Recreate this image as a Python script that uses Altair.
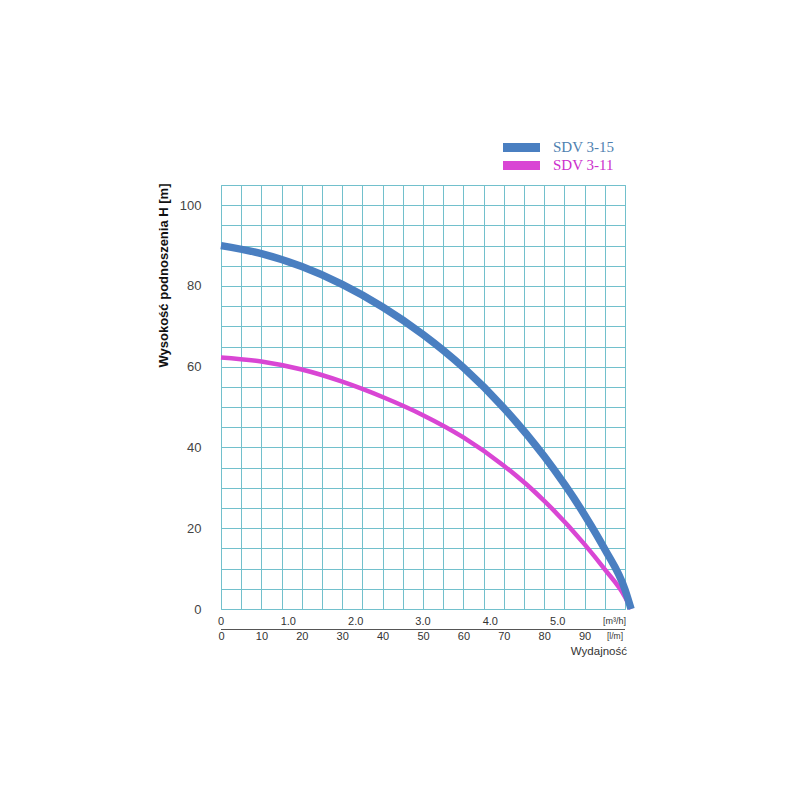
import altair as alt
import pandas as pd

# ---- data ----
flow_lpm = [0, 10, 20, 30, 40, 50, 60, 70, 80, 90, 95, 100, 101.5]
head_sdv_3_15 = [90, 88, 84.8, 80.4, 74.8, 68, 59.8, 49.8, 37.8, 23.3, 14.8, 4.8, 0]
head_sdv_3_11 = [62.3, 61.3, 59.3, 56.3, 52.5, 48, 42.5, 35.5, 26.8, 16, 9.8, 3, 0]
series_names = ["SDV 3-15", "SDV 3-11"]
series_colors = ["#4a7fc1", "#d946d4"]
legend_text_colors = ["#4f7fb0", "#cc2fcc"]
m3h_ticks = [0, 1, 2, 3, 4, 5]
m3h_labels = ["0", "1.0", "2.0", "3.0", "4.0", "5.0"]
x_grid_values = list(range(0, 101, 5))
y_grid_values = list(range(0, 106, 5))

GRID = "#72c0cc"
W, H = 404, 424
FONT = "Liberation Sans"

xscale = alt.Scale(domain=[0, 100], nice=False, zero=False)
yscale = alt.Scale(domain=[0, 105], nice=False, zero=False)

df_315 = pd.DataFrame({"flow": flow_lpm, "H": head_sdv_3_15})
df_311 = pd.DataFrame({"flow": flow_lpm, "H": head_sdv_3_11})

x_axis = alt.Axis(
    values=x_grid_values, grid=True, gridColor=GRID, gridWidth=1, gridOpacity=1,
    ticks=False, domain=False, title=None,
    labelExpr="datum.value % 10 == 0 && datum.value < 100 ? datum.value : ''",
    labelPadding=21, labelFontSize=11, labelColor="#333", labelFont=FONT,
    labelOverlap=False, labelFlush=False, labelBaseline="top",
)
y_axis = alt.Axis(
    values=y_grid_values, grid=True, gridColor=GRID, gridWidth=1, gridOpacity=1,
    ticks=False, domain=False,
    labelExpr="datum.value % 20 == 0 ? datum.value : ''",
    labelPadding=20, labelFontSize=13, labelColor="#444", labelFont=FONT,
    labelOverlap=False, labelFlush=False,
    title="Wysokość podnoszenia H [m]", titleFont=FONT, titleFontSize=13,
    titleFontWeight="bold", titleColor="#111", titleAngle=270,
    titleX=-58, titleY=90, titleAlign="center", titleBaseline="middle",
)


def X(field="flow"):
    return alt.X(f"{field}:Q", scale=xscale, axis=x_axis)


def Y(field="H"):
    return alt.Y(f"{field}:Q", scale=yscale, axis=y_axis)


line_311 = alt.Chart(df_311).mark_line(
    color=series_colors[1], strokeWidth=4.5, interpolate="monotone"
).encode(x=X(), y=Y())
line_315 = alt.Chart(df_315).mark_line(
    color=series_colors[0], strokeWidth=7.5, interpolate="monotone"
).encode(x=X(), y=Y())

# second (m3/h) label row, positioned through the flow scale
m3h_df = pd.DataFrame({"m3h": m3h_ticks, "label": m3h_labels})
m3h_text = alt.Chart(m3h_df).transform_calculate(
    flow="datum.m3h * 1000 / 60"
).mark_text(font=FONT, fontSize=11, color="#333", baseline="middle", align="center").encode(
    x=X(), y=alt.value(437), text="label:N",
)

rule_df = pd.DataFrame({"flow": [0], "flow_end": [100]})
sep_rule = alt.Chart(rule_df).mark_rule(color="#555", strokeWidth=1).encode(
    x=X(), x2="flow_end:Q", y=alt.value(444.5)
)

unit_m3h = alt.Chart(pd.DataFrame({"t": ["[m³/h]"]})).mark_text(
    font=FONT, fontSize=9, color="#333", align="right", baseline="middle"
).encode(x=alt.value(405), y=alt.value(436), text="t:N")
unit_lpm = alt.Chart(pd.DataFrame({"t": ["[l/m]"]})).mark_text(
    font=FONT, fontSize=8.5, color="#333", align="right", baseline="middle"
).encode(x=alt.value(402), y=alt.value(451), text="t:N")
wyd = alt.Chart(pd.DataFrame({"t": ["Wydajność"]})).mark_text(
    font=FONT, fontSize=11.5, color="#333", align="right", baseline="middle"
).encode(x=alt.value(406), y=alt.value(467), text="t:N")

legend_layers = []
for i, (name, col, tcol) in enumerate(zip(series_names, series_colors, legend_text_colors)):
    dy = i * 18
    ldf = pd.DataFrame({"name": [name]})
    legend_layers.append(
        alt.Chart(ldf).mark_rect(color=col).encode(
            x=alt.value(282), x2=alt.value(319),
            y=alt.value(-42 + dy), y2=alt.value(-33 + dy),
        )
    )
    legend_layers.append(
        alt.Chart(ldf).mark_text(
            font="Liberation Serif", fontSize=15, color=tcol, align="left", baseline="middle"
        ).encode(x=alt.value(332), y=alt.value(-38 + dy), text="name:N")
    )

chart = alt.layer(
    line_311, line_315, m3h_text, sep_rule, unit_m3h, unit_lpm, wyd, *legend_layers
).properties(
    width=W, height=H,
    autosize=alt.AutoSizeParams(type="none"),
    padding={"left": 213, "top": 177, "right": 150, "bottom": 150},
    background="white",
).configure_view(stroke=GRID, strokeWidth=1)

chart.save("out.html", embed_options={"renderer": "svg", "actions": False})
